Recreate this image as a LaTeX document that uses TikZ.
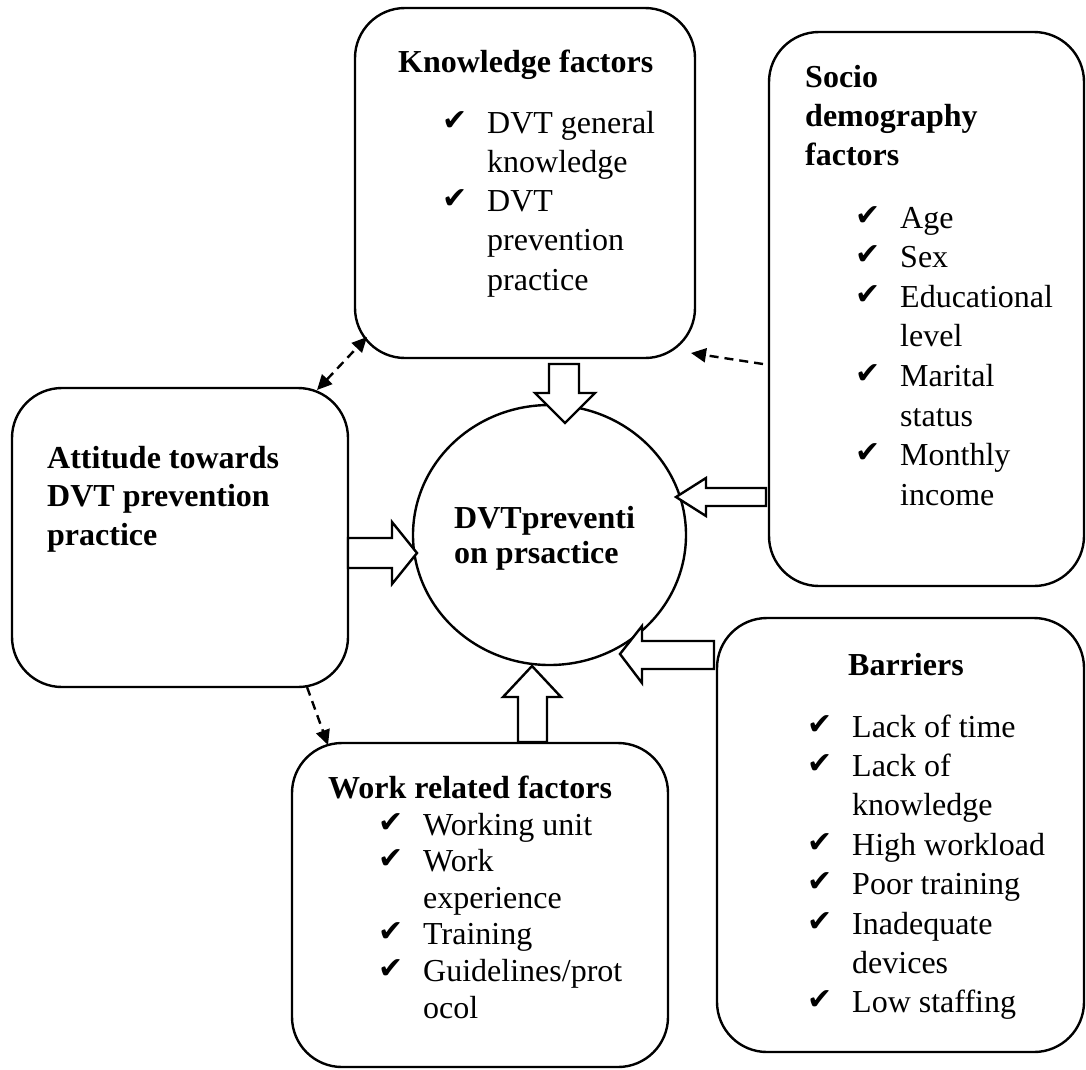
\documentclass[tikz,border=0pt]{standalone}
\usepackage{fontspec}
\setmainfont{Liberation Serif}
\newfontfamily\ckfont{DejaVu Sans}
\usetikzlibrary{shapes.geometric,arrows.meta}
\newcommand\ckm{\makebox[45pt][l]{\raisebox{3pt}{\ckfont\fontsize{30}{30}\selectfont ✔}}}
\newcommand\indt{\hspace*{45pt}}
\begin{document}
\begin{tikzpicture}[x=1pt,y=-1pt,
  box/.style={draw, line width=2.4pt, rounded corners=50pt, inner sep=0pt, shape=rectangle},
  txt/.style={anchor=base west, inner sep=0pt, font=\fontsize{32}{39.4}\selectfont},
  blk/.style={draw, fill=white, line width=2.4pt, line join=miter},
  dsh/.style={line width=2.4pt, dash pattern=on 9pt off 6pt, -{Triangle[length=15pt,width=14pt]}},
  dsh2/.style={line width=2.4pt, dash pattern=on 9pt off 6pt, {Triangle[length=15pt,width=14pt]}-{Triangle[length=15pt,width=14pt]}}]
\useasboundingbox (0,0) rectangle (1086,1069);

% boxes
\node[box, minimum width=340pt, minimum height=350pt] (know) at (525,183) {};
\node[box, minimum width=315pt, minimum height=554pt] (socio) at (926.5,309) {};
\node[box, minimum width=336pt, minimum height=299pt] (att) at (180,537.5) {};
\node[box, minimum width=376pt, minimum height=324pt] (work) at (480,905) {};
\node[box, minimum width=367pt, minimum height=434pt] (barr) at (900.5,835) {};

% central ellipse
\node[draw, line width=2.4pt, ellipse, minimum width=273pt, minimum height=260pt, inner sep=0pt] (dvt) at (549.5,535) {};
\node[txt, font=\fontsize{32}{35}\selectfont\bfseries] (dvtT) at (454,528)
  {\begin{tabular}[t]{@{}l@{}}DVTpreventi\\on prsactice\end{tabular}};

% knowledge
\node[txt, font=\fontsize{32}{39}\selectfont\bfseries] (knowT) at (398,72) {Knowledge factors};
\node[txt, font=\fontsize{32}{39.3}\selectfont] (knowL) at (442,133)
  {\begin{tabular}[t]{@{}l@{}}\ckm DVT general\\\indt knowledge\\\ckm DVT\\\indt prevention\\\indt practice\end{tabular}};

% socio
\node[txt, font=\fontsize{32}{39}\selectfont\bfseries] (socT) at (805,87)
  {\begin{tabular}[t]{@{}l@{}}Socio\\demography\\factors\end{tabular}};
\node[txt, font=\fontsize{32}{39.6}\selectfont] (socL) at (855,228)
  {\begin{tabular}[t]{@{}l@{}}\ckm Age\\\ckm Sex\\\ckm Educational\\\indt level\\\ckm Marital\\\indt status\\\ckm Monthly\\\indt income\end{tabular}};

% attitude
\node[txt, font=\fontsize{32}{38.5}\selectfont\bfseries] (attT) at (47,468)
  {\begin{tabular}[t]{@{}l@{}}Attitude towards\\DVT prevention\\practice\end{tabular}};

% work
\node[txt, font=\fontsize{32}{39}\selectfont\bfseries] (workT) at (328,798) {Work related factors};
\node[txt, font=\fontsize{32}{36.6}\selectfont] (workL) at (378,835)
  {\begin{tabular}[t]{@{}l@{}}\ckm Working unit\\\ckm Work\\\indt experience\\\ckm Training\\\ckm Guidelines/prot\\\indt ocol\end{tabular}};

% barriers
\node[txt, font=\fontsize{32}{39}\selectfont\bfseries] (barT) at (848,675) {Barriers};
\node[txt, font=\fontsize{32}{39.4}\selectfont] (barL) at (807,737)
  {\begin{tabular}[t]{@{}l@{}}\ckm Lack of time\\\ckm Lack of\\\indt knowledge\\\ckm High workload\\\ckm Poor training\\\ckm Inadequate\\\indt devices\\\ckm Low staffing\end{tabular}};

% block arrows
\draw[blk] (549,364) -- (579,364) -- (579,393) -- (595,393) -- (565,423) -- (535,393) -- (549,393) -- cycle;
\draw[blk] (766,488) -- (706,488) -- (706,478) -- (676,497) -- (706,516) -- (706,506) -- (766,506) -- cycle;
\draw[blk] (348,538) -- (392,538) -- (392,522) -- (417,553) -- (392,584) -- (392,568) -- (348,568) -- cycle;
\draw[blk] (714,641) -- (642,641) -- (642,626) -- (620,654) -- (642,683) -- (642,669) -- (714,669) -- cycle;
\draw[blk] (518,742) -- (518,697) -- (503,697) -- (532,666) -- (561,697) -- (547,697) -- (547,742) -- cycle;

% dashed connectors
\coordinate (kA) at (367,337);
\coordinate (aK) at (317,390);
\coordinate (sK) at (763,364);
\coordinate (kS) at (691,353);
\coordinate (aW) at (307,687);
\coordinate (wA) at (328,745);
\draw[dsh2] (aK) -- (kA);
\draw[dsh] (sK) -- (kS);
\draw[dsh] (aW) -- (wA);
\end{tikzpicture}
\end{document}
